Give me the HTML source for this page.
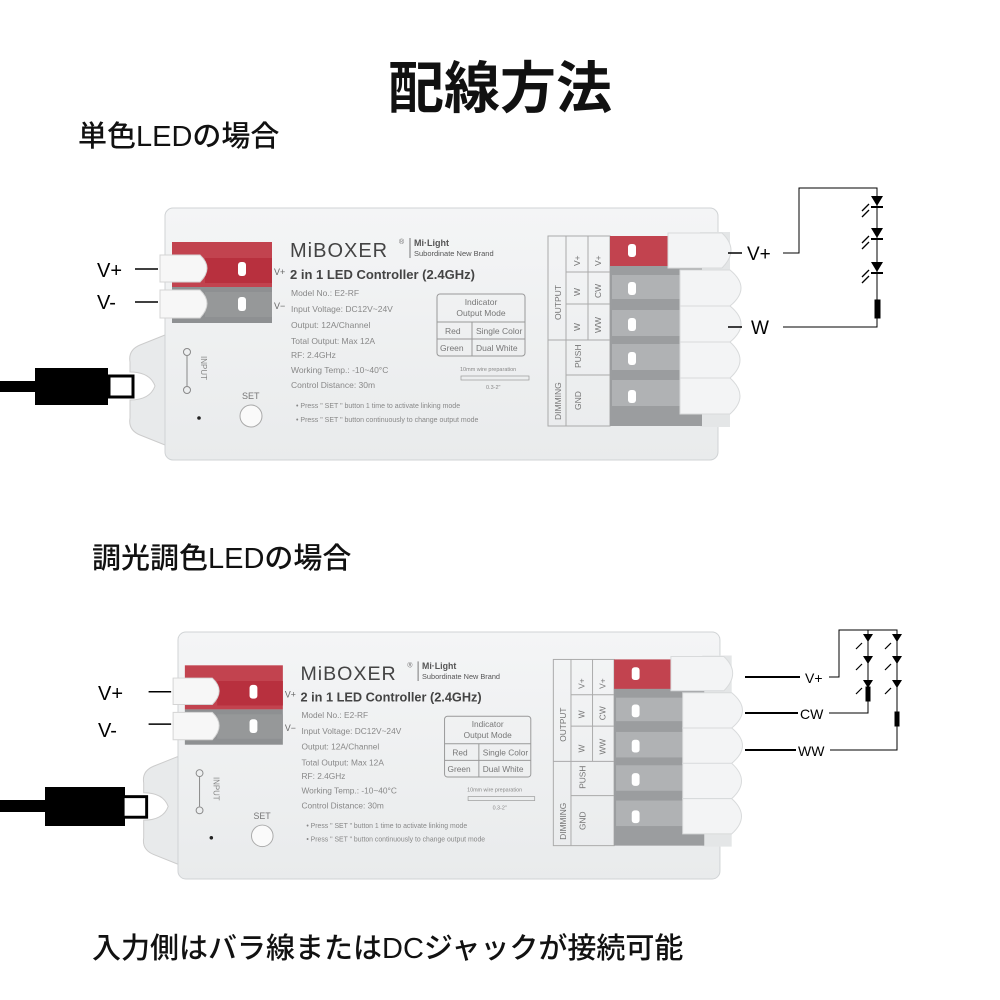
<!DOCTYPE html>
<html><head><meta charset="utf-8"><style>
html,body{margin:0;padding:0;background:#fff;width:1000px;height:1000px;overflow:hidden}
.t{position:absolute;font-family:"Liberation Sans","Noto Sans CJK JP",sans-serif;color:#111;white-space:nowrap;font-weight:500}
svg{position:absolute;left:0;top:0}
svg text{font-family:"Liberation Sans","Noto Sans CJK JP",sans-serif}
</style></head><body>
<svg width="1000" height="1000" viewBox="0 0 1000 1000">
<defs>
<linearGradient id="bd" x1="0" y1="0" x2="0" y2="1"><stop offset="0" stop-color="#f4f5f6"/><stop offset="1" stop-color="#e9ebec"/></linearGradient>
</defs>
<!-- TOP controller -->
<g id="c1">
 <rect x="0" y="381" width="40" height="11" fill="#000"/>
 <rect x="35" y="368" width="73" height="37" fill="#000"/>
 <rect x="109" y="376" width="24" height="21" fill="#fff" stroke="#000" stroke-width="3"/>
 <path d="M165 335 L140 345 Q128 350 130 362 L130 372 Q150 372 155 386 Q150 400 130 400 L130 418 Q128 430 140 435 L165 445 Z" fill="#e8eaeb" stroke="#ccc"/>
 <rect x="165" y="208" width="553" height="252" rx="8" fill="url(#bd)" stroke="#d0d3d5"/>
 <rect x="700" y="232" width="30" height="195" fill="#e4e6e7"/>
 <rect x="172" y="242" width="100" height="45" fill="#c2434f"/>
 <rect x="172" y="287" width="100" height="36" fill="#8e9092"/>
 <rect x="205" y="258" width="67" height="25" fill="#b8303e"/>
 <rect x="205" y="292" width="67" height="25" fill="#969899"/>
 <rect x="238" y="262" width="8" height="14" rx="3" fill="#fff"/>
 <rect x="238" y="297" width="8" height="14" rx="3" fill="#fff"/>
 <path d="M160 255 H200 Q214 268 200 282 H160 Z" fill="#f7f7f7" stroke="#d4d4d4"/>
 <path d="M160 290 H200 Q214 303 200 318 H160 Z" fill="#f7f7f7" stroke="#d4d4d4"/>
 <line x1="135" y1="269" x2="158" y2="269" stroke="#000" stroke-width="1.5"/>
 <line x1="135" y1="302" x2="158" y2="302" stroke="#000" stroke-width="1.5"/>
 <text x="97" y="277" font-size="20">V+</text>
 <text x="97" y="309" font-size="20">V-</text>
 <text x="274" y="275" font-size="9" fill="#666">V+</text>
 <text x="274" y="309" font-size="9" fill="#666">V−</text>
 <text x="290" y="257" font-size="20" fill="#444" letter-spacing="1">MiBOXER</text>
 <text x="399" y="244" font-size="7" fill="#666">®</text>
 <line x1="410" y1="238" x2="410" y2="258" stroke="#777"/>
 <text x="414" y="246" font-size="9" font-weight="bold" fill="#555" font-family="Liberation Serif">Mi·Light</text>
 <text x="414" y="256" font-size="7.5" fill="#555" font-family="Liberation Serif">Subordinate New Brand</text>
 <text x="290" y="279" font-size="13" font-weight="bold" fill="#444">2 in 1 LED Controller (2.4GHz)</text>
 <g font-size="8.5" fill="#888">
 <text x="291" y="296">Model No.: E2-RF</text>
 <text x="291" y="312">Input Voltage: DC12V~24V</text>
 <text x="291" y="328">Output: 12A/Channel</text>
 <text x="291" y="344">Total Output: Max 12A</text>
 <text x="291" y="358">RF: 2.4GHz</text>
 <text x="291" y="373">Working Temp.: -10~40°C</text>
 <text x="291" y="388">Control Distance: 30m</text>
 <text x="296" y="408" font-size="7">•  Press " SET " button 1 time to activate linking mode</text>
 <text x="296" y="422" font-size="7">•  Press " SET " button continuously to change output mode</text>
 </g>
 <rect x="437" y="294" width="88" height="62" rx="3" fill="none" stroke="#999"/>
 <line x1="437" y1="322" x2="525" y2="322" stroke="#999"/><line x1="437" y1="339" x2="525" y2="339" stroke="#999"/><line x1="472" y1="322" x2="472" y2="356" stroke="#999"/>
 <g font-size="8.5" fill="#777"><text x="481" y="305" text-anchor="middle">Indicator</text><text x="481" y="316" text-anchor="middle">Output Mode</text>
 <text x="445" y="334">Red</text><text x="476" y="334">Single Color</text><text x="440" y="351">Green</text><text x="476" y="351">Dual White</text></g>
 <text x="460" y="371" font-size="5.5" fill="#888">10mm wire preparation</text>
 <rect x="461" y="376" width="68" height="4" fill="none" stroke="#999" stroke-width=".7"/>
 <text x="486" y="389" font-size="5.5" fill="#888">0.3-2"</text>
 <text x="242" y="399" font-size="9" fill="#777">SET</text>
 <circle cx="251" cy="416" r="11" fill="#fafafa" stroke="#aaa"/>
 <circle cx="199" cy="418" r="1.8" fill="#222"/>
 <g stroke="#888" fill="none"><circle cx="187" cy="352" r="3.5"/><circle cx="187" cy="390" r="3.5"/><line x1="187" y1="356" x2="187" y2="386"/></g>
 <text font-size="8" fill="#888" transform="translate(201,356) rotate(90)">INPUT</text>
 <g stroke="#aaa" fill="none"><rect x="548" y="236" width="62" height="190"/><line x1="566" y1="236" x2="566" y2="426"/><line x1="588" y1="236" x2="588" y2="340"/><line x1="548" y1="340" x2="610" y2="340"/><line x1="566" y1="272" x2="610" y2="272"/><line x1="566" y1="304" x2="610" y2="304"/><line x1="566" y1="375" x2="610" y2="375"/></g>
 <g font-size="8.5" fill="#777">
 <text transform="translate(561,320) rotate(-90)">OUTPUT</text>
 <text transform="translate(561,420) rotate(-90)">DIMMING</text>
 <text transform="translate(580,266) rotate(-90)">V+</text><text transform="translate(601,266) rotate(-90)">V+</text>
 <text transform="translate(580,296) rotate(-90)">W</text><text transform="translate(601,298) rotate(-90)">CW</text>
 <text transform="translate(580,331) rotate(-90)">W</text><text transform="translate(601,333) rotate(-90)">WW</text>
 <text transform="translate(581,368) rotate(-90)">PUSH</text><text transform="translate(581,410) rotate(-90)">GND</text>
 </g>
 <rect x="610" y="236" width="92" height="190" fill="#9b9d9f"/>
 <rect x="610" y="236" width="58" height="30" fill="#c2434f"/>
 <g fill="#b0b2b4"><rect x="612" y="275" width="68" height="24"/><rect x="612" y="310" width="68" height="26"/><rect x="612" y="344" width="68" height="26"/><rect x="612" y="380" width="68" height="26"/></g>
 <g fill="#fff"><rect x="628" y="244" width="8" height="13" rx="3"/><rect x="628" y="282" width="8" height="13" rx="3"/><rect x="628" y="318" width="8" height="13" rx="3"/><rect x="628" y="352" width="8" height="13" rx="3"/><rect x="628" y="390" width="8" height="13" rx="3"/></g>
 <g fill="#f3f4f5" stroke="#d8dadb">
 <path d="M668 233 H722 Q740 250 722 268 H668 Z"/>
 <path d="M680 270 H730 Q752 288 730 306 H680 Z"/>
 <path d="M680 306 H730 Q752 324 730 342 H680 Z"/>
 <path d="M680 342 H730 Q750 360 730 378 H680 Z"/>
 <path d="M680 378 H730 Q750 396 730 414 H680 Z"/>
 </g>
</g>
<g stroke="#000" fill="none">
 <line x1="728" y1="253" x2="742" y2="253" stroke-width="1.5"/>
 <line x1="728" y1="327" x2="742" y2="327" stroke-width="1.5"/>
 <polyline points="783,253 799,253 799,188 877,188 877,302"/>
 <polyline points="783,327 877,327 877,310"/>
 <rect x="875" y="300" width="5" height="18" fill="#000"/>
</g>
<g fill="#000">
 <polygon points="871,196 883,196 877,206"/><rect x="871" y="206" width="12" height="2"/>
 <polygon points="871,228 883,228 877,238"/><rect x="871" y="238" width="12" height="2"/>
 <polygon points="871,262 883,262 877,272"/><rect x="871" y="272" width="12" height="2"/>
</g>
<g stroke="#000" stroke-width="1.3"><line x1="869" y1="204" x2="862" y2="211"/><line x1="869" y1="210" x2="862" y2="217"/><line x1="869" y1="236" x2="862" y2="243"/><line x1="869" y1="242" x2="862" y2="249"/><line x1="869" y1="270" x2="862" y2="277"/><line x1="869" y1="276" x2="862" y2="283"/></g>
<text x="747" y="260" font-size="19">V+</text>
<text x="751" y="334" font-size="19">W</text>

<!-- BOTTOM cable & labels (absolute) -->
<rect x="0" y="800" width="50" height="12" fill="#000"/>
<rect x="45" y="787" width="80" height="39" fill="#000"/>
<text x="98" y="700" font-size="20">V+</text>
<text x="98" y="737" font-size="20">V-</text>
<!-- BOTTOM controller -->
<g transform="translate(178,632) scale(0.98) translate(-165,-208)">
 <rect x="109" y="376" width="24" height="21" fill="#fff" stroke="#000" stroke-width="3"/>
 <path d="M165 335 L140 345 Q128 350 130 362 L130 372 Q150 372 155 386 Q150 400 130 400 L130 418 Q128 430 140 435 L165 445 Z" fill="#e8eaeb" stroke="#ccc"/>
 <rect x="165" y="208" width="553" height="252" rx="8" fill="url(#bd)" stroke="#d0d3d5"/>
 <rect x="700" y="232" width="30" height="195" fill="#e4e6e7"/>
 <rect x="172" y="242" width="100" height="45" fill="#c2434f"/>
 <rect x="172" y="287" width="100" height="36" fill="#8e9092"/>
 <rect x="205" y="258" width="67" height="25" fill="#b8303e"/>
 <rect x="205" y="292" width="67" height="25" fill="#969899"/>
 <rect x="238" y="262" width="8" height="14" rx="3" fill="#fff"/>
 <rect x="238" y="297" width="8" height="14" rx="3" fill="#fff"/>
 <path d="M160 255 H200 Q214 268 200 282 H160 Z" fill="#f7f7f7" stroke="#d4d4d4"/>
 <path d="M160 290 H200 Q214 303 200 318 H160 Z" fill="#f7f7f7" stroke="#d4d4d4"/>
 <line x1="135" y1="269" x2="158" y2="269" stroke="#000" stroke-width="1.5"/>
 <line x1="135" y1="302" x2="158" y2="302" stroke="#000" stroke-width="1.5"/>
 <text x="274" y="275" font-size="9" fill="#666">V+</text>
 <text x="274" y="309" font-size="9" fill="#666">V−</text>
 <text x="290" y="257" font-size="20" fill="#444" letter-spacing="1">MiBOXER</text>
 <text x="399" y="244" font-size="7" fill="#666">®</text>
 <line x1="410" y1="238" x2="410" y2="258" stroke="#777"/>
 <text x="414" y="246" font-size="9" font-weight="bold" fill="#555" font-family="Liberation Serif">Mi·Light</text>
 <text x="414" y="256" font-size="7.5" fill="#555" font-family="Liberation Serif">Subordinate New Brand</text>
 <text x="290" y="279" font-size="13" font-weight="bold" fill="#444">2 in 1 LED Controller (2.4GHz)</text>
 <g font-size="8.5" fill="#888">
 <text x="291" y="296">Model No.: E2-RF</text>
 <text x="291" y="312">Input Voltage: DC12V~24V</text>
 <text x="291" y="328">Output: 12A/Channel</text>
 <text x="291" y="344">Total Output: Max 12A</text>
 <text x="291" y="358">RF: 2.4GHz</text>
 <text x="291" y="373">Working Temp.: -10~40°C</text>
 <text x="291" y="388">Control Distance: 30m</text>
 <text x="296" y="408" font-size="7">•  Press " SET " button 1 time to activate linking mode</text>
 <text x="296" y="422" font-size="7">•  Press " SET " button continuously to change output mode</text>
 </g>
 <rect x="437" y="294" width="88" height="62" rx="3" fill="none" stroke="#999"/>
 <line x1="437" y1="322" x2="525" y2="322" stroke="#999"/><line x1="437" y1="339" x2="525" y2="339" stroke="#999"/><line x1="472" y1="322" x2="472" y2="356" stroke="#999"/>
 <g font-size="8.5" fill="#777"><text x="481" y="305" text-anchor="middle">Indicator</text><text x="481" y="316" text-anchor="middle">Output Mode</text>
 <text x="445" y="334">Red</text><text x="476" y="334">Single Color</text><text x="440" y="351">Green</text><text x="476" y="351">Dual White</text></g>
 <text x="460" y="371" font-size="5.5" fill="#888">10mm wire preparation</text>
 <rect x="461" y="376" width="68" height="4" fill="none" stroke="#999" stroke-width=".7"/>
 <text x="486" y="389" font-size="5.5" fill="#888">0.3-2"</text>
 <text x="242" y="399" font-size="9" fill="#777">SET</text>
 <circle cx="251" cy="416" r="11" fill="#fafafa" stroke="#aaa"/>
 <circle cx="199" cy="418" r="1.8" fill="#222"/>
 <g stroke="#888" fill="none"><circle cx="187" cy="352" r="3.5"/><circle cx="187" cy="390" r="3.5"/><line x1="187" y1="356" x2="187" y2="386"/></g>
 <text font-size="8" fill="#888" transform="translate(201,356) rotate(90)">INPUT</text>
 <g stroke="#aaa" fill="none"><rect x="548" y="236" width="62" height="190"/><line x1="566" y1="236" x2="566" y2="426"/><line x1="588" y1="236" x2="588" y2="340"/><line x1="548" y1="340" x2="610" y2="340"/><line x1="566" y1="272" x2="610" y2="272"/><line x1="566" y1="304" x2="610" y2="304"/><line x1="566" y1="375" x2="610" y2="375"/></g>
 <g font-size="8.5" fill="#777">
 <text transform="translate(561,320) rotate(-90)">OUTPUT</text>
 <text transform="translate(561,420) rotate(-90)">DIMMING</text>
 <text transform="translate(580,266) rotate(-90)">V+</text><text transform="translate(601,266) rotate(-90)">V+</text>
 <text transform="translate(580,296) rotate(-90)">W</text><text transform="translate(601,298) rotate(-90)">CW</text>
 <text transform="translate(580,331) rotate(-90)">W</text><text transform="translate(601,333) rotate(-90)">WW</text>
 <text transform="translate(581,368) rotate(-90)">PUSH</text><text transform="translate(581,410) rotate(-90)">GND</text>
 </g>
 <rect x="610" y="236" width="92" height="190" fill="#9b9d9f"/>
 <rect x="610" y="236" width="58" height="30" fill="#c2434f"/>
 <g fill="#b0b2b4"><rect x="612" y="275" width="68" height="24"/><rect x="612" y="310" width="68" height="26"/><rect x="612" y="344" width="68" height="26"/><rect x="612" y="380" width="68" height="26"/></g>
 <g fill="#fff"><rect x="628" y="244" width="8" height="13" rx="3"/><rect x="628" y="282" width="8" height="13" rx="3"/><rect x="628" y="318" width="8" height="13" rx="3"/><rect x="628" y="352" width="8" height="13" rx="3"/><rect x="628" y="390" width="8" height="13" rx="3"/></g>
 <g fill="#f3f4f5" stroke="#d8dadb">
 <path d="M668 233 H722 Q740 250 722 268 H668 Z"/>
 <path d="M680 270 H730 Q752 288 730 306 H680 Z"/>
 <path d="M680 306 H730 Q752 324 730 342 H680 Z"/>
 <path d="M680 342 H730 Q750 360 730 378 H680 Z"/>
 <path d="M680 378 H730 Q750 396 730 414 H680 Z"/>
 </g>
</g>
<g stroke="#000" fill="none">
 <line x1="745" y1="677" x2="800" y2="677" stroke-width="2"/>
 <line x1="745" y1="713" x2="798" y2="713" stroke-width="2"/>
 <line x1="745" y1="750" x2="796" y2="750" stroke-width="2"/>
 <polyline points="829,677 839,677 839,630 897,630 897,750 830,750"/>
 <polyline points="868,630 868,713 829,713"/>
 <rect x="866" y="687" width="4" height="14" fill="#000"/>
 <rect x="895" y="712" width="4" height="14" fill="#000"/>
</g>
<g fill="#000">
 <polygon points="863,634 873,634 868,642"/><polygon points="863,656 873,656 868,664"/><polygon points="863,680 873,680 868,688"/>
 <polygon points="892,634 902,634 897,642"/><polygon points="892,656 902,656 897,664"/><polygon points="892,680 902,680 897,688"/>
</g>
<g stroke="#000" stroke-width="1.2"><line x1="862" y1="643" x2="856" y2="649"/><line x1="862" y1="664" x2="856" y2="670"/><line x1="862" y1="688" x2="856" y2="694"/><line x1="891" y1="643" x2="885" y2="649"/><line x1="891" y1="664" x2="885" y2="670"/><line x1="891" y1="688" x2="885" y2="694"/></g>
<text x="805" y="683" font-size="14">V+</text>
<text x="800" y="719" font-size="14">CW</text>
<text x="798" y="756" font-size="14">WW</text>
</svg>
<div class="t" style="left:0;width:1000px;text-align:center;top:44px;font-size:56px;font-weight:bold">配線方法</div>
<div class="t" style="left:78px;top:113px;font-size:29px">単色LEDの場合</div>
<div class="t" style="left:92px;top:535px;font-size:29px">調光調色LEDの場合</div>
<div class="t" style="left:92px;top:925px;font-size:29px">入力側はバラ線またはDCジャックが接続可能</div>
</body></html>
